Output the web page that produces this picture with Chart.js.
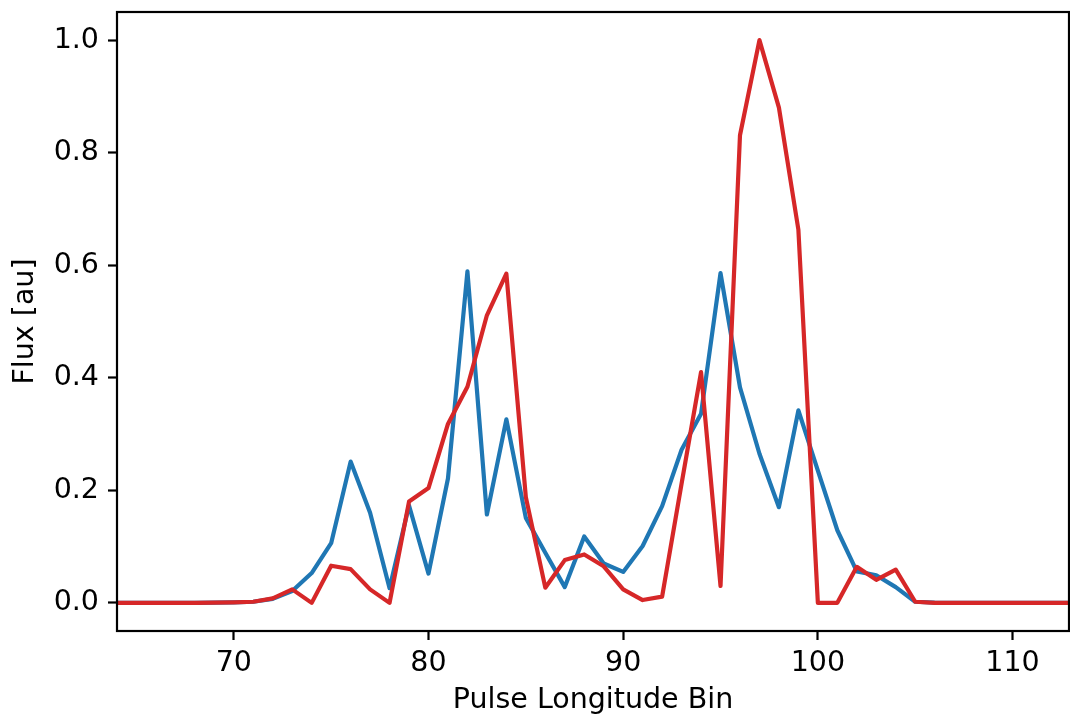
<!DOCTYPE html>
<html>
<head>
<meta charset="utf-8">
<script src="https://cdn.jsdelivr.net/npm/chart.js@4.4.1/dist/chart.umd.min.js"></script>
<style>
  html, body { margin: 0; padding: 0; background: #fff; }
  #wrap { width: 1070px; height: 718px; }
</style>
</head>
<body>
<div id="wrap"><canvas id="c" width="1070" height="718"></canvas></div>
<script>
const bins = [64,65,66,67,68,69,70,71,72,73,74,75,76,77,78,79,80,81,82,83,84,85,86,87,88,89,90,91,92,93,94,95,96,97,98,99,100,101,102,103,104,105,106,107,108,109,110,111,112,113];
const blueFlux = [0,0,0,0,0,0.0003,0.0008,0.002,0.007,0.021,0.053,0.106,0.251,0.160,0.026,0.173,0.052,0.221,0.589,0.157,0.326,0.151,0.089,0.028,0.118,0.070,0.055,0.101,0.172,0.272,0.336,0.586,0.383,0.265,0.170,0.342,0.235,0.129,0.056,0.049,0.028,0.002,0.0005,0,0,0,0,0,0,0];
const redFlux = [0,0,0,0,0,0.0003,0.0008,0.002,0.008,0.024,0.0,0.066,0.060,0.024,0.0,0.180,0.204,0.318,0.384,0.511,0.585,0.188,0.027,0.076,0.086,0.065,0.024,0.005,0.011,0.212,0.410,0.030,0.831,1.0,0.880,0.663,0,0,0.064,0.041,0.059,0.002,0,0,0,0,0,0,0,0];
const xTicks = [70,80,90,100,110];
const yTicks = [0.0,0.2,0.4,0.6,0.8,1.0];

const FONT = "'DejaVu Sans', sans-serif";
const FS = 28.5;

const framePlugin = {
  id: 'frame',
  afterDraw(chart) {
    const a = chart.chartArea, ctx = chart.ctx;
    ctx.save();
    ctx.strokeStyle = '#000';
    ctx.lineWidth = 2.2;
    ctx.strokeRect(a.left, a.top, a.right - a.left, a.bottom - a.top);
    ctx.restore();
  }
};

new Chart(document.getElementById('c'), {
  type: 'line',
  data: {
    datasets: [
      { data: bins.map((b,i)=>({x:b, y:blueFlux[i]})), borderColor: '#1f77b4', borderWidth: 4.2, pointRadius: 0, borderJoinStyle: 'round', tension: 0, order: 1 },
      { data: bins.map((b,i)=>({x:b, y:redFlux[i]})), borderColor: '#d62728', borderWidth: 4.2, pointRadius: 0, borderJoinStyle: 'round', tension: 0, order: 0 }
    ]
  },
  options: {
    responsive: false,
    animation: false,
    devicePixelRatio: 1,
    layout: { padding: { top: 12, right: 1, left: 0, bottom: 0 } },
    plugins: { legend: { display: false }, tooltip: { enabled: false } },
    scales: {
      x: {
        type: 'linear', min: 64, max: 112.9,
        afterBuildTicks: s => { s.ticks = xTicks.map(v => ({value: v})); },
        afterFit: s => { s.height = 87; s.paddingLeft = 0; s.paddingRight = 0; },
        grid: { drawOnChartArea: false, drawTicks: true, tickLength: 9, tickColor: '#000', tickWidth: 2.2 },
        border: { display: false },
        ticks: { color: '#000', font: { family: FONT, size: FS }, padding: 6, maxRotation: 0, callback: v => String(v) },
        title: { display: true, text: 'Pulse Longitude Bin', color: '#000', font: { family: FONT, size: FS }, padding: { top: 0, bottom: 0 } }
      },
      y: {
        type: 'linear', min: -0.05, max: 1.05,
        afterBuildTicks: s => { s.ticks = yTicks.map(v => ({value: v})); },
        afterFit: s => { s.width = 117; s.paddingTop = 0; s.paddingBottom = 0; },
        grid: { drawOnChartArea: false, drawTicks: true, tickLength: 9, tickColor: '#000', tickWidth: 2.2 },
        border: { display: false },
        ticks: { color: '#000', font: { family: FONT, size: FS }, padding: 9, callback: v => Number(v).toFixed(1) },
        title: { display: true, text: 'Flux [au]', color: '#000', font: { family: FONT, size: FS }, padding: { top: 8, bottom: 0 } }
      }
    }
  },
  plugins: [framePlugin]
});
</script>
</body>
</html>
